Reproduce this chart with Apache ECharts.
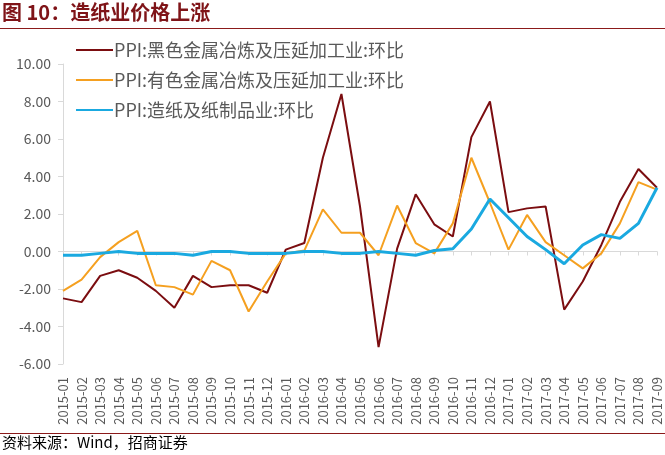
<!DOCTYPE html>
<html>
<head>
<meta charset="utf-8">
<style>
  html, body { margin: 0; padding: 0; background: #fff; }
  #chart { width: 665px; height: 455px; }
</style>
<script src="https://cdn.jsdelivr.net/npm/echarts@6/dist/echarts.min.js"></script>
</head>
<body>
<div id="chart"></div>
<script>
// 月份
var months = [
  '2015-01','2015-02','2015-03','2015-04','2015-05','2015-06','2015-07','2015-08','2015-09','2015-10','2015-11','2015-12',
  '2016-01','2016-02','2016-03','2016-04','2016-05','2016-06','2016-07','2016-08','2016-09','2016-10','2016-11','2016-12',
  '2017-01','2017-02','2017-03','2017-04','2017-05','2017-06','2017-07','2017-08','2017-09'
];
var seriesNames = ['PPI:黑色金属冶炼及压延加工业:环比', 'PPI:有色金属冶炼及压延加工业:环比', 'PPI:造纸及纸制品业:环比'];
// 黑色金属
var ferrous = [-2.5,-2.7,-1.3,-1.0,-1.4,-2.1,-3.0,-1.3,-1.9,-1.8,-1.8,-2.2,
  0.1,0.45,5.0,8.4,2.4,-5.1,0.15,3.05,1.45,0.8,6.1,8.0,
  2.1,2.3,2.4,-3.1,-1.6,0.35,2.65,4.4,3.4];
// 有色金属
var nonferrous = [-2.1,-1.5,-0.3,0.5,1.1,-1.8,-1.9,-2.3,-0.5,-1.0,-3.2,-1.6,
  -0.1,0.05,2.25,1.0,1.0,-0.2,2.45,0.45,-0.1,1.5,5.0,2.6,
  0.1,1.95,0.5,-0.2,-0.9,-0.1,1.5,3.7,3.3];
// 造纸
var paper = [-0.2,-0.2,-0.1,0.0,-0.1,-0.1,-0.1,-0.2,0.0,0.0,-0.1,-0.1,
  -0.1,0.0,0.0,-0.1,-0.1,0.0,-0.1,-0.2,0.05,0.15,1.2,2.8,
  1.8,0.8,0.1,-0.65,0.35,0.9,0.7,1.5,3.4];
var colors = ['#7b0d10', '#f5a020', '#1aa9e0'];

var myChart = echarts.init(document.getElementById('chart'));

var option = {
  animation: false,
  textStyle: { fontFamily: '"Noto Sans CJK SC", sans-serif' },
  graphic: [
    {
      type: 'text', left: 2, top: 2,
      style: { text: '图 10：造纸业价格上涨', fill: '#7f1418', font: 'bold 20px "Noto Sans CJK SC"' }
    },
    {
      type: 'rect', left: 0, top: 28,
      shape: { width: 665, height: 1 },
      style: { fill: '#8b1a1a' }
    },
    {
      type: 'rect', left: 0, top: 433,
      shape: { width: 665, height: 1 },
      style: { fill: '#8b1a1a' }
    },
    {
      type: 'text', left: 2, top: 435,
      style: { text: '资料来源：Wind，招商证券', fill: '#000', font: '15px "Noto Sans CJK SC"' }
    }
  ],
  legend: {
    orient: 'vertical',
    left: 71, top: 36,
    itemWidth: 37, itemHeight: 10, itemGap: 12,
    icon: 'path://M0,0 L37,0 L37,2 L0,2 Z',
    textStyle: { fontSize: 18, color: '#595959', padding: [0, 0, 0, -4] },
    data: seriesNames
  },
  grid: { left: 63, right: 8, top: 64, bottom: 91, containLabel: false },
  xAxis: [
    {
      type: 'category', data: months, boundaryGap: false, position: 'bottom',
      axisLine: { show: false, onZero: false },
      axisTick: { show: false },
      axisLabel: { rotate: 90, interval: 0, fontSize: 13, color: '#595959', margin: 13 }
    },
    {
      type: 'category', data: months, boundaryGap: false, position: 'top',
      axisLine: { onZero: true, lineStyle: { color: '#d9d9d9' } },
      axisTick: { show: true, interval: 0, inside: true, length: 4, lineStyle: { color: '#d9d9d9' } },
      axisLabel: { show: false }
    }
  ],
  yAxis: {
    type: 'value', min: -6, max: 10, interval: 2,
    axisLine: { show: true, lineStyle: { color: '#d9d9d9' } },
    axisTick: { show: true, length: 5, lineStyle: { color: '#d9d9d9' } },
    splitLine: { show: false },
    axisLabel: { fontSize: 14, color: '#595959', margin: 12,
      formatter: function (v) { return v.toFixed(2); } }
  },
  series: [
    { name: seriesNames[0], type: 'line', data: ferrous, symbol: 'none',
      lineStyle: { width: 2, color: colors[0] }, itemStyle: { color: colors[0] } },
    { name: seriesNames[1], type: 'line', data: nonferrous, symbol: 'none',
      lineStyle: { width: 2, color: colors[1] }, itemStyle: { color: colors[1] } },
    { name: seriesNames[2], type: 'line', data: paper, symbol: 'none',
      lineStyle: { width: 3, color: colors[2] }, itemStyle: { color: colors[2] } }
  ]
};

myChart.setOption(option);
</script>
</body>
</html>
